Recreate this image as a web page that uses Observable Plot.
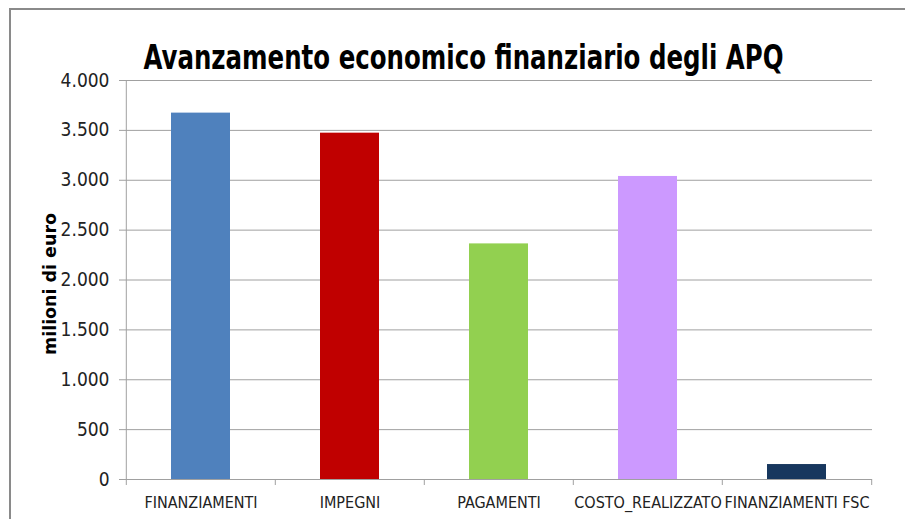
<!DOCTYPE html>
<html>
<head>
<meta charset="utf-8">
<script src="https://cdn.jsdelivr.net/npm/d3@7"></script>
<script src="https://cdn.jsdelivr.net/npm/@observablehq/plot@0.6"></script>
<style>
  html, body { margin: 0; padding: 0; background: #fff; overflow: hidden; }
  #wrap { position: relative; width: 905px; height: 519px; overflow: hidden; }
  #border { position: absolute; left: 9px; top: 8px; width: 1000px; height: 700px; border: 2px solid #8a8a8a; box-sizing: border-box; pointer-events: none; }
  #chart { position: absolute; left: 0; top: 0; }
</style>
</head>
<body>
<div id="wrap"><div id="chart"></div><div id="border"></div></div>
<script>
const title = "Avanzamento economico finanziario degli APQ";
const yLabel = "milioni di euro";
const categories = ["FINANZIAMENTI", "IMPEGNI", "PAGAMENTI", "COSTO_REALIZZATO", "FINANZIAMENTI FSC"];
const values = [3673, 3472, 2362, 3038, 150];
const colors = ["#4F81BD", "#C00000", "#92D050", "#CC99FF", "#17375E"];
const yTicks = [0, 500, 1000, 1500, 2000, 2500, 3000, 3500, 4000];

const data = categories.map((c, i) => ({category: c, value: values[i], color: colors[i]}));
const itFormat = d3.formatLocale({decimal: ",", thousands: ".", grouping: [3], currency: ["€", ""]}).format(",d");

const width = 905, height = 519;
const marginLeft = 125, marginRight = 33, marginTop = 80, marginBottom = 40;
const step = (width - marginLeft - marginRight) / categories.length;
const font = "'Liberation Sans Narrow', 'DejaVu Sans Condensed', 'Open Sans', sans-serif";

const plot = Plot.plot({
  width, height, marginLeft, marginRight, marginTop, marginBottom,
  style: {fontFamily: font, background: "#fff", color: "#000"},
  x: {domain: categories, paddingInner: 0.605, paddingOuter: 0.3025, label: null},
  y: {domain: [0, 4000], label: null},
  marks: [
    Plot.gridY(yTicks, {stroke: "#a0a0a0", strokeOpacity: 1, strokeWidth: 1}),
    Plot.barY(data, {x: "category", y: "value", fill: "color"}),
    Plot.ruleY([0], {stroke: "#a0a0a0", strokeWidth: 1}),
    Plot.ruleX(categories.slice(0, 1), {x: d => d, dx: -step / 2, y1: 0, y2: 4000, stroke: "#a0a0a0"}),
    Plot.ruleX(categories, {x: d => d, dx: -step / 2, y1: 0, y2: 0, insetBottom: -6, stroke: "#a0a0a0"}),
    Plot.ruleX(categories.slice(-1), {x: d => d, dx: step / 2, y1: 0, y2: 0, insetBottom: -6, stroke: "#a0a0a0"}),
    Plot.axisY(yTicks, {tickFormat: itFormat, tickSize: 6, tickPadding: 10, stroke: "#a0a0a0", fontSize: 19, fill: "#222"}),
    Plot.axisX({tickSize: 0, tickPadding: 17, fontSize: 16, fill: "#222", label: null}),
    Plot.text([yLabel], {frameAnchor: "left", textAnchor: "middle", rotate: -90, dx: -75, dy: 4, fontSize: 18, fontWeight: "bold", fill: "#000", className: "ylab"}),
    Plot.text([title], {frameAnchor: "top", lineAnchor: "bottom", dx: -35.5, dy: -12, fontSize: 34, fontWeight: "bold", fill: "#000", className: "ttl"})
  ]
});
d3.select(plot).select("g.ttl text").attr("textLength", 640).attr("lengthAdjust", "spacingAndGlyphs");
d3.select(plot).select("g.ylab text").attr("textLength", 142).attr("lengthAdjust", "spacingAndGlyphs");
document.getElementById("chart").appendChild(plot);
</script>
</body>
</html>
